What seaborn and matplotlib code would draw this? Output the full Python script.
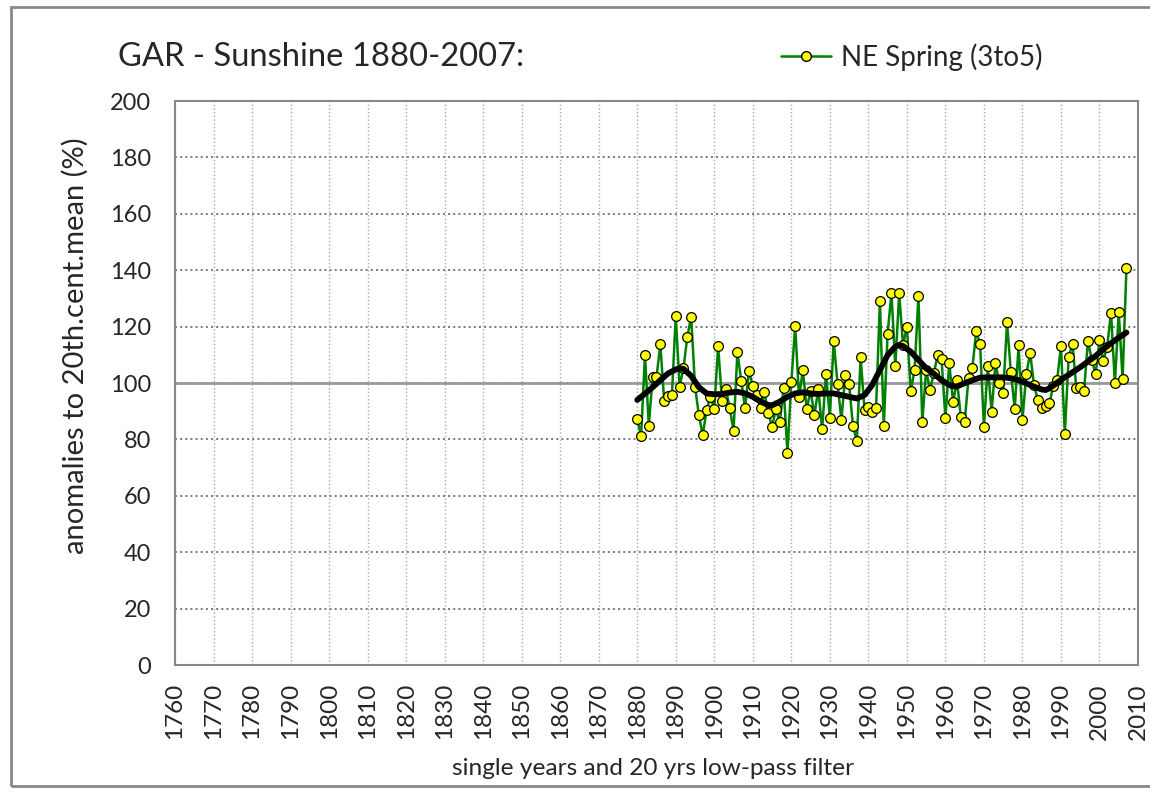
import numpy as np
import pandas as pd
import seaborn as sns
import matplotlib.pyplot as plt
from matplotlib.patches import Rectangle
from matplotlib.lines import Line2D

# single years (spring sunshine, % of 20th century mean)
years = list(range(1880, 2008))
sunshine = [
    87.1, 81.2, 110.0, 84.9, 102.2, 102.2, 113.7, 93.6, 95.5, 95.7,      # 1880s
    123.8, 98.7, 105.2, 116.4, 123.5, 98.7, 88.7, 81.5, 90.4, 95.2,      # 1890s
    90.7, 113.2, 93.7, 97.8, 91.3, 83.0, 110.9, 100.8, 91.0, 104.4,      # 1900s
    99.0, 95.7, 91.3, 96.7, 89.5, 84.5, 90.7, 86.0, 98.2, 75.3,          # 1910s
    100.2, 120.3, 94.9, 104.6, 90.7, 97.3, 88.7, 97.8, 83.6, 103.2,      # 1920s
    87.7, 114.9, 99.8, 86.9, 102.7, 99.5, 84.8, 79.5, 109.1, 90.4,       # 1930s
    91.6, 89.8, 91.0, 129.0, 84.6, 117.5, 132.0, 105.9, 131.8, 113.4,    # 1940s
    120.0, 97.0, 104.6, 131.0, 86.3, 104.6, 97.5, 103.5, 110.0, 108.4,   # 1950s
    87.7, 107.0, 93.1, 101.0, 88.0, 86.3, 101.6, 105.4, 118.4, 113.8,    # 1960s
    84.5, 106.0, 89.8, 107.0, 100.1, 96.5, 121.5, 103.8, 90.9, 113.4,    # 1970s
    86.9, 103.1, 110.7, 99.3, 94.1, 91.0, 91.8, 92.8, 98.9, 101.0,       # 1980s
    113.1, 81.9, 109.3, 113.8, 98.1, 98.5, 97.3, 115.0, 108.2, 103.1,    # 1990s
    115.2, 107.9, 112.9, 125.0, 99.9, 125.2, 101.3, 140.8,               # 2000s
]

# 20 yrs low-pass curve
smooth_years = [1880, 1882, 1884, 1886, 1888, 1890, 1891, 1892, 1894, 1896,
                1898, 1900, 1902, 1904, 1906, 1908, 1910, 1912, 1914, 1915,
                1917, 1919, 1921, 1923, 1925, 1927, 1929, 1931, 1933, 1935,
                1937, 1939, 1941, 1943, 1945, 1947, 1948, 1949, 1951, 1953,
                1955, 1957, 1959, 1961, 1962, 1963, 1965, 1967, 1969, 1971,
                1973, 1975, 1977, 1979, 1981, 1983, 1985, 1986, 1987, 1989,
                1991, 1993, 1995, 1997, 1999, 2001, 2003, 2005, 2007]
smooth_vals = [94.0, 96.2, 98.5, 101.0, 103.4, 104.8, 105.2, 105.0, 102.5, 98.5,
               96.3, 96.0, 96.1, 96.6, 96.9, 96.3, 95.1, 93.4, 92.2, 92.1,
               93.4, 95.1, 96.3, 96.7, 96.3, 96.1, 96.3, 96.3, 95.7, 95.1,
               94.5, 95.7, 99.3, 104.6, 109.9, 112.9, 113.5, 113.1, 111.1, 108.2,
               105.2, 103.3, 101.0, 99.3, 98.8, 98.8, 99.9, 101.0, 101.9, 102.0,
               102.0, 102.0, 101.7, 101.0, 99.9, 98.7, 97.7, 97.5, 98.1, 100.1,
               102.0, 103.8, 105.6, 107.6, 109.6, 112.0, 114.1, 116.1, 117.9]

df = pd.DataFrame({'year': years, 'value': sunshine})
df_s = pd.DataFrame({'year': smooth_years, 'value': smooth_vals})

sns.set_style('white')
plt.rcParams['font.family'] = ['Lato', 'DejaVu Sans']

fig = plt.figure(figsize=(11.5, 7.93), dpi=100)
ax = fig.add_axes([175/1150, 1 - 665/793, (1138-175)/1150, (665-101)/793])

sns.lineplot(data=df, x='year', y='value', ax=ax, color='#008000', linewidth=1.8,
             marker='o', markersize=7, markerfacecolor='#FFFF00',
             markeredgecolor='black', markeredgewidth=0.9, zorder=4)
sns.lineplot(data=df_s, x='year', y='value', ax=ax, color='black', linewidth=4.2,
             zorder=5)

ax.set_xlim(1760, 2010)
ax.set_ylim(0, 200)
ax.set_xticks(np.arange(1760, 2011, 10))
ax.set_yticks(np.arange(0, 201, 20))
ax.tick_params(axis='x', labelrotation=90, labelsize=17.5, length=0, pad=13)
ax.tick_params(axis='y', labelsize=17, length=6, color='#888888', pad=11)

ax.grid(axis='x', linestyle=':', color='#aaaaaa', linewidth=1.0)
ax.grid(axis='y', linestyle=':', color='#777777', linewidth=1.4)
ax.axhline(100, color='#999999', linewidth=2, zorder=2)
for s in ax.spines.values():
    s.set_color('#888888')
    s.set_linewidth(1.5)

ax.set_xlabel('single years and 20 yrs low-pass filter', fontsize=17.6)
ax.set_ylabel('anomalies to 20th.cent.mean (%)', fontsize=21)
ax.xaxis.set_label_coords(0.496, -0.183)
ax.xaxis.label.set_va('center')
ax.yaxis.set_label_coords(-0.104, 0.567)
ax.yaxis.label.set_va('center')

fig.text(118/1150, 1 - 57/793, 'GAR - Sunshine 1880-2007:', fontsize=23.6,
         ha='left', va='center')

handle = Line2D([], [], color='#008000', linewidth=1.8, marker='o', markersize=7,
                markerfacecolor='#FFFF00', markeredgecolor='black')
fig.legend([handle], ['NE Spring (3to5)'], loc='center left',
           bbox_to_anchor=(756/1150, 1 - 57/793), frameon=False, fontsize=20,
           handlelength=1.8, handletextpad=0.35)

fig.add_artist(Rectangle((11/1150, 7/793), 1.2, 1 - 14/793, transform=fig.transFigure,
                         fill=False, edgecolor='#888888', linewidth=2))

fig.savefig('out.png', dpi=100)
